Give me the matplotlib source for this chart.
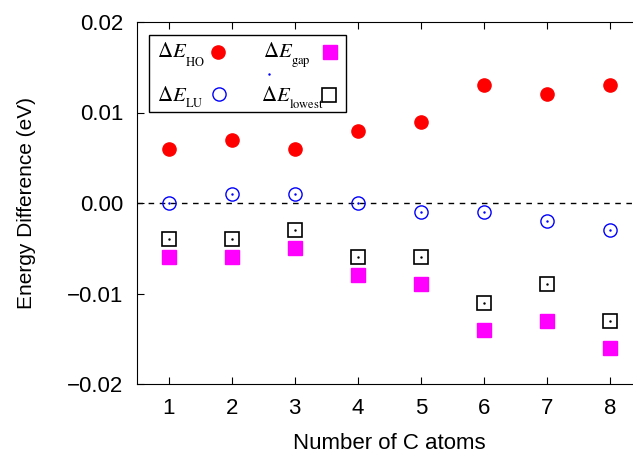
import numpy as np
import matplotlib
matplotlib.use("Agg")
import matplotlib.pyplot as plt
from matplotlib.patches import Rectangle

plt.rcParams['font.family'] = ['Liberation Sans', 'DejaVu Sans']
plt.rcParams['mathtext.fontset'] = 'stix'

# data
n_atoms = [1, 2, 3, 4, 5, 6, 7, 8]
d_ho = [0.006, 0.007, 0.006, 0.008, 0.009, 0.013, 0.012, 0.013]
d_lu = [0.000, 0.001, 0.001, 0.000, -0.001, -0.001, -0.002, -0.003]
d_gap = [-0.006, -0.006, -0.005, -0.008, -0.009, -0.014, -0.013, -0.016]
d_lowest = [-0.004, -0.004, -0.003, -0.006, -0.006, -0.011, -0.009, -0.013]
y_ticks = [-0.02, -0.01, 0.0, 0.01, 0.02]
y_labels = ['\u22120.02', '\u22120.01', '0.00', '0.01', '0.02']
subscripts = ['HO', 'LU', 'gap', 'lowest']

# axes box in pixels of the 633x453 image (right spine lies outside it)
AX_L, AX_T, AX_W, AX_H = 137, 22, 504.6, 362


def fx(px):
    return (px - AX_L) / AX_W


def fy(py):
    return 1 - (py - AX_T) / AX_H


fig = plt.figure(figsize=(6.33, 4.53), dpi=100)
ax = fig.add_axes([AX_L / 633, (453 - AX_T - AX_H) / 453, AX_W / 633, AX_H / 453])

ax.axhline(0, color='black', lw=1.0, ls=(0, (4, 4)), zorder=1)

ax.plot(n_atoms, d_ho, 'o', color='red', ms=9.5, ls='none')
ax.plot(n_atoms, d_lu, 'o', mfc='none', mec='blue', mew=1.0, ms=9.5, ls='none')
ax.plot(n_atoms, d_lu, '.', color='blue', ms=1.5, ls='none')
ax.plot(n_atoms, d_gap, 's', color='magenta', ms=9.5, ls='none')
ax.plot(n_atoms, d_lowest, 's', mfc='none', mec='black', mew=1.2, ms=9.5, ls='none')
ax.plot(n_atoms, d_lowest, '.', color='black', ms=1.5, ls='none')

ax.set_xlim(0.5, 8.5)
ax.set_ylim(-0.02, 0.02)
ax.set_xticks(n_atoms)
ax.set_yticks(y_ticks)
ax.set_yticklabels(y_labels)
ax.tick_params(direction='in', top=True, right=True, labelsize=16, length=5, pad=10)

ax.set_xlabel('Number of C atoms', fontsize=16, labelpad=10)
ax.set_ylabel('Energy Difference (eV)', fontsize=15, labelpad=22)

# legend drawn by hand: labels left aligned, markers in a column after them
ax.add_patch(Rectangle((fx(149), fy(112)), fx(346) - fx(149), fy(35) - fy(112),
                       transform=ax.transAxes, fill=False, edgecolor='black',
                       lw=1.0, zorder=5))
# (text x, baseline y, subscript baseline y, marker x, marker y, style)
leg_rows = [
    (157, 57, 66, 218, 52,
     dict(marker='o', color='red')),
    (157, 101, 107, 219, 94,
     dict(marker='o', mfc='none', mec='blue', mew=1.0)),
    (263, 57, 64, 330, 52,
     dict(marker='s', color='magenta')),
    (261, 101, 108, 329, 95,
     dict(marker='s', mfc='none', mec='black', mew=1.2)),
]
for sub, (tx, ty, sy, mx, my, style) in zip(subscripts, leg_rows):
    ax.text(fx(tx), fy(ty), r'$\Delta E$', transform=ax.transAxes, fontsize=15,
            va='baseline', ha='left', zorder=6)
    ax.text(fx(tx + 28), fy(sy), r'$\mathrm{%s}$' % sub, transform=ax.transAxes,
            fontsize=9, va='baseline', ha='left', zorder=6)
    ax.plot([fx(mx)], [fy(my)], transform=ax.transAxes, ms=9.5, ls='none',
            clip_on=False, zorder=6, **style)
ax.plot([fx(269)], [fy(74)], '.', color='blue', ms=1.5, transform=ax.transAxes, zorder=6)

fig.savefig('out.png', dpi=100)
